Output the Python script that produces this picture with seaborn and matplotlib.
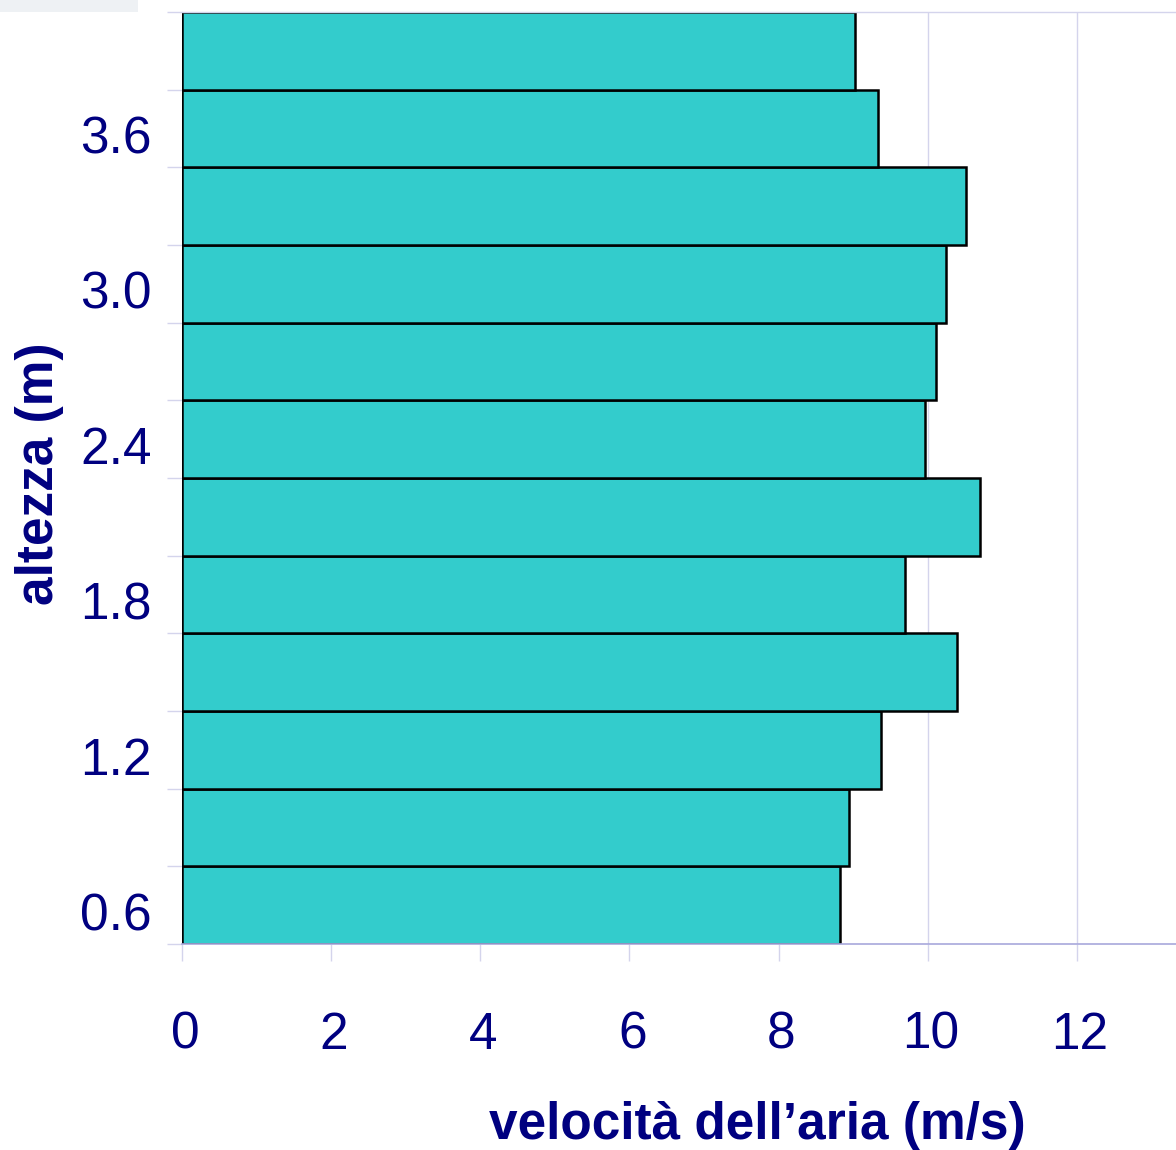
import seaborn as sns
import matplotlib.pyplot as plt
import matplotlib.transforms as mtransforms
import pandas as pd
from matplotlib.patches import Rectangle

# altezza (m) and velocità dell'aria (m/s)
heights = [0.6, 0.9, 1.2, 1.5, 1.8, 2.1, 2.4, 2.7, 3.0, 3.3, 3.6, 3.9]
speeds = [8.82, 8.95, 9.38, 10.39, 9.69, 10.70, 9.97, 10.11, 10.25, 10.51, 9.33, 9.02]
y_ticks = [0.6, 1.2, 1.8, 2.4, 3.0, 3.6]
y_bounds = [0.45, 0.75, 1.05, 1.35, 1.65, 1.95, 2.25, 2.55, 2.85, 3.15, 3.45, 3.75, 4.05]
x_ticks = [0, 2, 4, 6, 8, 10, 12]

df = pd.DataFrame({'altezza': heights, 'velocita': speeds})

navy = '#000080'
lav = '#d4d4ec'

sns.set_style('white')
plt.rcParams['font.family'] = ['Liberation Sans', 'DejaVu Sans']

fig = plt.figure(figsize=(11.76, 11.5), dpi=100)
ax = fig.add_axes([182 / 1176, 206 / 1150, 994 / 1176, 932 / 1150])

sns.barplot(data=df, x='velocita', y='altezza', orient='h', native_scale=True,
            width=1, color='#33cccc', saturation=1, edgecolor='black',
            linewidth=1.8, ax=ax)

ax.set_xlim(0, 13.33)
ax.set_ylim(0.45, 4.05)
ax.set_axisbelow(True)
ax.grid(axis='x', color=lav, linewidth=1)

ax.set_xticks(x_ticks)
ax.set_yticks(y_ticks)
ax.set_yticklabels([f'{v:.1f}' for v in y_ticks])
ax.set_yticks(y_bounds, minor=True)
ax.tick_params(axis='x', which='major', direction='out', length=12, width=1,
               color=lav, labelsize=37, labelcolor=navy, pad=36, bottom=True)
ax.tick_params(axis='y', which='major', length=0, labelsize=37,
               labelcolor=navy, pad=22, left=True)
ax.tick_params(axis='y', which='minor', direction='out', length=11, width=1,
               color=lav, left=True)

# y labels sit a little below the bar centres in the original
shift = mtransforms.ScaledTranslation(0, -6 / 100, fig.dpi_scale_trans)
for lbl in ax.get_yticklabels():
    lbl.set_transform(lbl.get_transform() + shift)
shift_x = mtransforms.ScaledTranslation(3 / 100, 0, fig.dpi_scale_trans)
for lbl in ax.get_xticklabels():
    lbl.set_transform(lbl.get_transform() + shift_x)

for s in ['left', 'right']:
    ax.spines[s].set_visible(False)
ax.spines['top'].set_color(lav)
ax.spines['top'].set_linewidth(1)
ax.spines['bottom'].set_color('#a8a8dc')
ax.spines['bottom'].set_linewidth(1.2)

ax.set_xlabel('velocità dell’aria (m/s)', fontsize=37, fontweight='bold', color=navy)
ax.xaxis.set_label_coords((757 - 182) / 994, (944 - 1126) / 932)
ax.xaxis.label.set_va('center')
ax.set_ylabel('altezza (m)', fontsize=37, fontweight='bold', color=navy)
ax.yaxis.set_label_coords((40 - 182) / 994, (944 - 474) / 932)
ax.yaxis.label.set_va('center')

# pale strip left over from the source slide, top-left corner
fig.patches.append(Rectangle((0, 1 - 12 / 1150), 138 / 1176, 12 / 1150,
                             transform=fig.transFigure, facecolor='#eef1f4',
                             edgecolor='none'))

fig.savefig('out.png', dpi=100)
plt.close()
